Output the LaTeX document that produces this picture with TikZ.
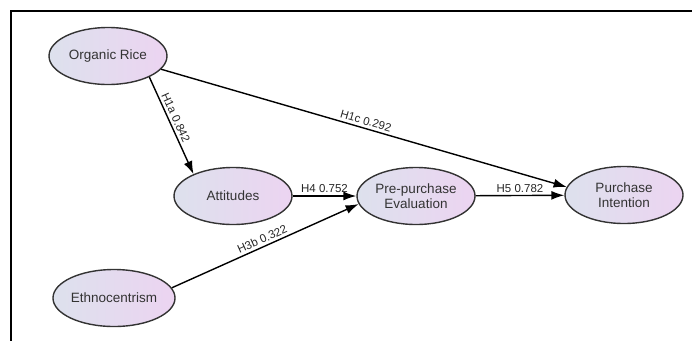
\documentclass[tikz,border=0pt]{standalone}
\usepackage{fontspec}
\setmainfont{Liberation Sans}
\usetikzlibrary{positioning,shapes.geometric,arrows.meta}
\definecolor{ovleft}{HTML}{DDE1ED}
\definecolor{ovright}{HTML}{ECD4F1}
\definecolor{ovline}{HTML}{333333}
\tikzset{every picture/.style={>={Latex[length=13pt,width=9pt]},line width=1.4pt}}
\tikzset{construct/.style={ellipse,draw=ovline,left color=ovleft,right color=ovright,
  minimum width=118pt,minimum height=57pt,inner sep=0pt,align=center,
  text=ovline,font=\fontsize{13.5}{15.5}\selectfont}}
\tikzset{path lbl/.style={sloped,above,inner sep=2.5pt,text=black!85,font=\fontsize{11.5}{13}\selectfont}}

\begin{document}
\begin{tikzpicture}[x=1pt,y=-1pt]
      \useasboundingbox (0,0) rectangle (692,341);
      \draw[line width=2pt] (692,11) -- (11,11) -- (11,341);
      \node[construct] (rice) at (108,56) {Organic Rice};
      \node[construct] (att) at (233,196) {Attitudes};
      \node[construct] (eval) at (416,196) {Pre-purchase\\Evaluation};
      \node[construct] (intent) at (624,195) {Purchase\\Intention};
      \node[construct] (ethno) at (114,298) {Ethnocentrism};
      \draw[->] (rice.-27) -- node[path lbl,pos=0.45] {H1a 0.842} (att.151);
      \draw[->] (rice.-14) -- node[path lbl] {H1c 0.292} (intent.172);
      \draw[->] (att) -- node[path lbl] {H4 0.752} (eval);
      \draw[->] (ethno.10) -- node[path lbl] {H3b 0.322} (eval.188);
      \draw[->] (eval) -- node[path lbl] {H5 0.782} (intent);
    \end{tikzpicture}
\end{document}
